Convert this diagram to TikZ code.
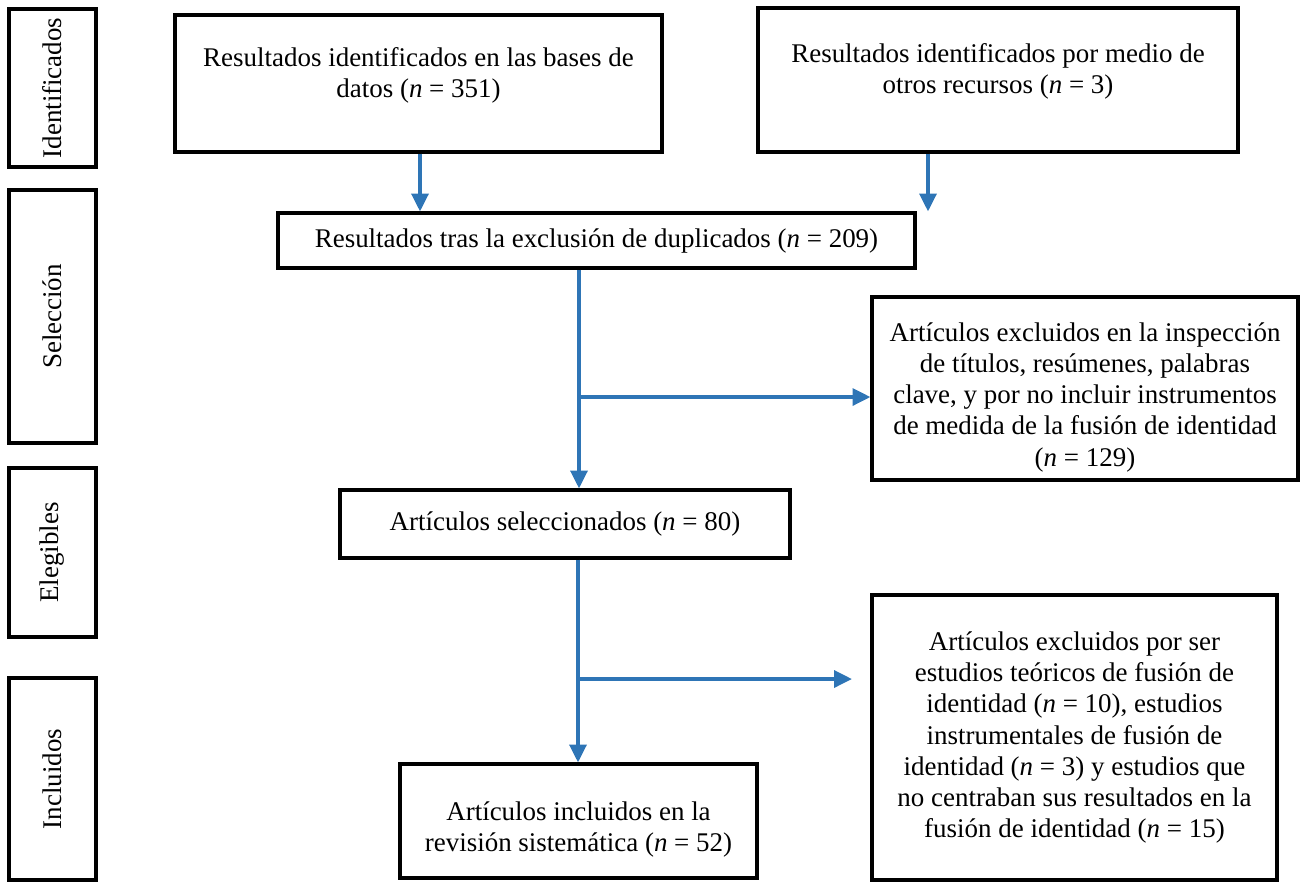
\documentclass[tikz,border=0pt]{standalone}
\usepackage{fontspec}
\setmainfont{Liberation Serif}
\usetikzlibrary{positioning, arrows.meta, calc}
\definecolor{flowblue}{RGB}{46,117,182}
\newcommand{\px}{0.445pt}
\newcommand{\lowstrut}{\rule{0pt}{16pt}}

\begin{document}
\begin{tikzpicture}[x=\px, y=-\px,
    box/.style={draw, line width=1.35pt, align=center, inner sep=0pt,
        font=\fontsize{12pt}{13.9pt}\selectfont},
    stage/.style={box, rotate=90, minimum height=87*\px},
    flow/.style={draw=flowblue, line width=1.7pt, -{Triangle[length=8pt, width=7.5pt]}}]
            \useasboundingbox (0,0) rectangle (1300,881);
            % stage labels
            \node[stage, minimum width=158*\px] (ident) at (52.5,88) {Identificados};
            \node[stage, minimum width=253*\px] (selec) at (52.5,316.5) {Selección};
            \node[stage, minimum width=169*\px] (eleg) at (52.5,552.5) {Elegibles};
            \node[stage, minimum width=202*\px] (inclu) at (52.5,779) {Incluidos};
            % boxes
            \node[box, text depth=10pt, minimum width=487*\px, minimum height=137*\px] (db) at (418.5,83.5)
                {Resultados identificados en las bases de\\datos (\textit{n} = 351)};
            \node[box, text depth=10pt, minimum width=480*\px, minimum height=144*\px] (otros) at (998,80)
                {Resultados identificados por medio de\\otros recursos (\textit{n} = 3)};
            \node[box, minimum width=637*\px, minimum height=55*\px] (dup) at (596.5,240.5)
                {Resultados tras la exclusión de duplicados (\textit{n} = 209)};
            \node[box, minimum width=426*\px, minimum height=183*\px] (excl1) at (1085,388.5)
                {\lowstrut Artículos excluidos en la inspección\\de títulos, resúmenes, palabras\\clave, y por no incluir instrumentos\\de medida de la fusión de identidad\\(\textit{n} = 129)};
            \node[box, minimum width=450*\px, minimum height=68*\px] (sel) at (565,524)
                {Artículos seleccionados (\textit{n} = 80)};
            \node[box, minimum width=405*\px, minimum height=285*\px] (excl2) at (1074.5,737.5)
                {Artículos excluidos por ser\\estudios teóricos de fusión de\\identidad (\textit{n} = 10), estudios\\instrumentales de fusión de\\identidad (\textit{n} = 3) y estudios que\\no centraban sus resultados en la\\fusión de identidad (\textit{n} = 15)};
            \node[box, minimum width=357*\px, minimum height=114*\px] (incl) at (578.5,821)
                {\lowstrut Artículos incluidos en la\\revisión sistemática (\textit{n} = 52)};
            % connectors
            \coordinate (d1) at (420,152);
            \coordinate (o1) at (928,152);
            \coordinate (t1) at (579,397);
            \coordinate (t2) at (578,679);
            \coordinate (e2) at (852,679);
            \draw[flow] (db.south -| d1) -- (dup.north -| d1);
            \draw[flow] (otros.south -| o1) -- (dup.north -| o1);
            \draw[flow] (dup.south -| t1) -- (sel.north -| t1);
            \draw[flow] (t1) -- (t1 -| excl1.west);
            \draw[flow] (sel.south -| t2) -- (incl.north -| t2);
            \draw[flow] (t2) -- (e2);
\end{tikzpicture}
\end{document}
